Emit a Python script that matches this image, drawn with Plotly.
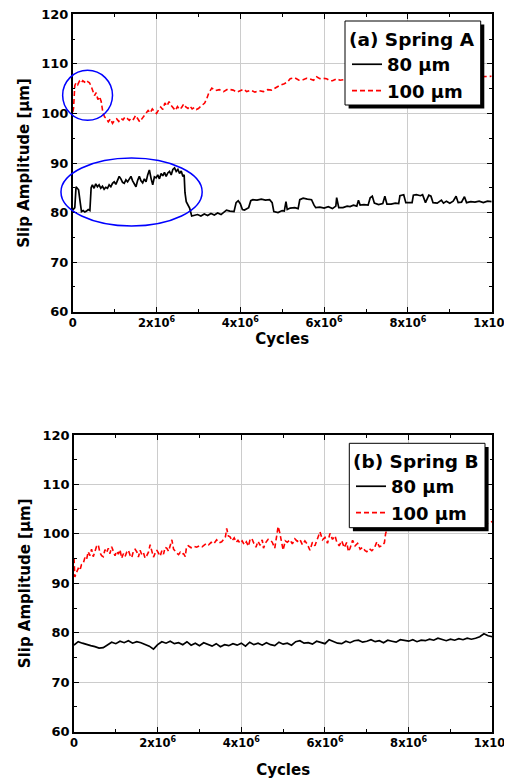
import plotly.graph_objects as go

# ---------------- data (cycles in units of 1e6) ----------------
A80_x = [0, 0.05, 0.08, 0.11, 0.14, 0.18, 0.21, 0.25, 0.29, 0.33, 0.37, 0.41, 0.44, 0.47, 0.51, 0.55,
         0.59, 0.63, 0.67, 0.71, 0.75, 0.79, 0.83, 0.87, 0.91, 0.95, 0.99, 1.03, 1.07, 1.11, 1.15, 1.19,
         1.23, 1.27, 1.31, 1.35, 1.39, 1.43, 1.47, 1.51, 1.55, 1.59, 1.63, 1.67, 1.71, 1.75, 1.79, 1.83,
         1.87, 1.91, 1.95, 1.99, 2.03, 2.07, 2.11, 2.15, 2.19, 2.23, 2.27, 2.31, 2.35, 2.39, 2.43, 2.47,
         2.51, 2.55, 2.59, 2.63, 2.66, 2.68, 2.71, 2.75, 2.79, 2.84, 2.90, 2.98, 3.06, 3.14, 3.22, 3.30,
         3.38, 3.46, 3.54, 3.60, 3.67, 3.75, 3.85, 3.90, 3.95, 4.00, 4.05, 4.10, 4.20, 4.25, 4.30, 4.40,
         4.50, 4.60, 4.70, 4.76, 4.80, 4.90, 5.00, 5.05, 5.09, 5.12, 5.19, 5.30, 5.38, 5.42, 5.50, 5.60,
         5.70, 5.76, 5.80, 5.90, 6.00, 6.10, 6.20, 6.28, 6.30, 6.35, 6.45, 6.55, 6.62, 6.70, 6.78, 6.82,
         6.86, 6.95, 7.05, 7.10, 7.15, 7.20, 7.30, 7.40, 7.45, 7.50, 7.60, 7.70, 7.78, 7.81, 7.90, 7.95,
         8.05, 8.10, 8.13, 8.20, 8.30, 8.35, 8.42, 8.50, 8.55, 8.60, 8.70, 8.80, 8.85, 8.92, 9.00, 9.08,
         9.15, 9.20, 9.28, 9.35, 9.40, 9.50, 9.60, 9.70, 9.80, 9.90, 10.0]
A80_y = [80.5, 81.0, 85.2, 84.8, 84.6, 82.0, 80.2, 80.4, 80.1, 80.3, 80.6, 80.4, 85.0, 85.6, 84.9, 85.8,
         85.2, 85.6, 84.9, 85.3, 84.7, 85.1, 84.9, 85.6, 85.2, 85.9, 86.2, 85.7, 86.5, 87.3, 86.8, 86.1,
         85.9, 86.6, 86.2, 86.9, 87.3, 86.4, 85.8, 85.2, 86.5, 87.3, 86.4, 86.0, 86.8, 86.2, 87.6, 88.6,
         86.9, 85.6, 87.2, 87.0, 87.6, 86.8, 87.9, 87.4, 88.1, 87.3, 88.0, 88.3, 87.6, 88.7, 89.0, 88.3,
         88.7, 87.9, 88.4, 87.3, 87.6, 84.0, 82.2, 81.5, 80.9, 79.3, 79.4, 79.6, 79.3, 79.7, 79.4, 79.8,
         79.5, 79.9, 79.6, 80.1, 80.5, 80.3, 80.2, 82.0, 82.4, 81.8, 80.6, 80.5, 81.0, 82.4, 82.6, 82.5,
         82.7, 82.5, 82.6, 82.0, 80.2, 80.0, 80.4, 80.3, 82.2, 80.6, 80.9, 81.0, 80.8, 82.6, 82.9, 82.7,
         82.6, 81.5, 81.0, 81.1, 80.9, 81.2, 80.8, 81.3, 83.0, 81.0, 81.0, 81.3, 81.2, 81.5, 81.3, 82.5,
         81.5, 81.6, 81.5, 83.0, 83.3, 81.9, 81.6, 81.8, 83.3, 81.7, 81.7, 81.9, 81.8, 83.4, 83.6, 82.0,
         81.9, 82.0, 83.5, 83.6, 83.4, 83.6, 82.0, 83.5, 83.3, 82.0, 81.9, 82.5, 81.9, 82.3, 81.9, 82.3,
         83.3, 82.0, 82.1, 83.2, 82.0, 82.2, 82.1, 82.3, 82.0, 82.3, 82.2]

A100_x = [0, 0.02, 0.05, 0.08, 0.12, 0.16, 0.20, 0.24, 0.28, 0.32, 0.36, 0.40, 0.44, 0.48, 0.52, 0.56,
          0.60, 0.64, 0.68, 0.72, 0.76, 0.80, 0.85, 0.90, 0.95, 1.00, 1.05, 1.10, 1.15, 1.20, 1.25, 1.30,
          1.35, 1.40, 1.45, 1.50, 1.55, 1.60, 1.65, 1.70, 1.75, 1.80, 1.85, 1.90, 1.95, 2.00, 2.05, 2.10,
          2.15, 2.20, 2.25, 2.30, 2.35, 2.40, 2.45, 2.50, 2.55, 2.60, 2.65, 2.70, 2.75, 2.80, 2.85, 2.90,
          2.95, 3.00, 3.05, 3.10, 3.15, 3.20, 3.25, 3.32, 3.40, 3.50, 3.60, 3.70, 3.83, 3.92, 4.00, 4.08,
          4.15, 4.25, 4.35, 4.45, 4.55, 4.65, 4.75, 4.85, 4.95, 5.05, 5.12, 5.19, 5.30, 5.40, 5.50, 5.58,
          5.65, 5.75, 5.82, 5.90, 5.95, 6.06, 6.14, 6.20, 6.30, 6.38, 6.45, 6.60, 6.80, 7.00, 7.40, 7.80,
          8.20, 8.60, 9.00, 9.40, 9.80, 10.0]
A100_y = [100.3, 101.0, 105.6, 106.2, 105.8, 106.5, 106.1, 106.6, 106.3, 106.7, 106.4, 106.2, 105.5, 104.4,
          103.6, 104.2, 102.8, 103.4, 102.4, 100.2, 99.3, 99.0, 98.3, 98.9, 98.0, 98.6, 98.9, 98.4, 99.0,
          98.7, 99.3, 99.0, 98.6, 99.1, 98.8, 99.6, 98.9, 98.3, 98.9, 99.5, 100.2, 100.6, 100.1, 100.9,
          100.4, 100.0, 100.7, 101.3, 100.8, 102.1, 101.5, 102.4, 101.6, 101.0, 100.6, 101.4, 100.8, 101.2,
          101.9, 101.3, 101.0, 101.5, 100.9, 101.2, 100.8, 101.0, 101.4, 101.6, 102.1, 103.0, 104.2, 105.1,
          104.6, 104.8, 104.4, 104.9, 104.7, 104.3, 104.6, 104.9, 104.4, 104.7, 104.3, 104.6, 104.4, 104.8,
          104.7, 105.2, 105.7, 106.0, 106.3, 107.0, 107.2, 106.7, 106.8, 107.1, 107.0, 106.7, 107.4, 107.0,
          107.1, 107.0, 106.6, 106.6, 107.0, 106.7, 106.8, 107.0, 106.8, 107.2, 107.0, 107.3, 107.1, 107.4,
          107.2, 107.3, 107.5, 107.5]

B80_x = [round(0.1 * i, 1) for i in range(101)]
B80_y = [77.5, 78.2, 77.9, 77.6, 77.4, 77.2, 76.9, 77.0, 77.6, 78.1, 77.8, 78.3, 78.0, 78.4, 77.9, 78.2,
         78.0, 77.6, 77.3, 76.7, 77.6, 78.2, 77.9, 78.3, 77.8, 78.0, 77.6, 78.2, 77.5, 77.9, 77.4, 78.0,
         77.6, 77.3, 77.8, 77.2, 77.6, 77.4, 77.8, 77.5, 77.9, 77.3, 78.1, 77.6, 77.9, 77.5, 78.0, 77.6,
         77.4, 78.1, 77.7, 77.9, 77.5, 78.2, 78.4, 77.9, 78.0, 77.7, 78.3, 78.1, 77.8, 78.6, 78.2, 77.9,
         77.8, 78.3, 78.0, 78.4, 78.5, 78.1, 78.3, 78.6, 78.2, 78.4, 78.0, 78.5, 78.3, 78.1, 78.6, 78.4,
         78.3, 78.6, 78.2, 78.5, 78.4, 78.7, 78.5, 78.9, 78.6, 78.4, 78.7, 78.5, 78.8, 78.6, 78.9, 78.7,
         78.9, 79.2, 79.8, 79.4, 79.2]

B100_x = [0, 0.02, 0.06, 0.10, 0.14, 0.18, 0.22, 0.26, 0.30, 0.34, 0.38, 0.42, 0.46, 0.50, 0.54, 0.58,
          0.62, 0.66, 0.70, 0.74, 0.78, 0.82, 0.86, 0.90, 0.94, 0.98, 1.02, 1.06, 1.10, 1.14, 1.18, 1.22,
          1.26, 1.30, 1.34, 1.38, 1.42, 1.46, 1.50, 1.54, 1.58, 1.62, 1.66, 1.70, 1.74, 1.78, 1.82, 1.86,
          1.90, 1.94, 1.98, 2.02, 2.06, 2.10, 2.14, 2.18, 2.22, 2.26, 2.30, 2.34, 2.38, 2.42, 2.46, 2.50,
          2.54, 2.58, 2.62, 2.66, 2.69, 2.73, 2.80, 2.86, 2.93, 3.00, 3.06, 3.12, 3.17, 3.22, 3.28, 3.34,
          3.41, 3.47, 3.53, 3.58, 3.62, 3.65, 3.69, 3.73, 3.78, 3.83, 3.88, 3.92, 3.97, 4.02, 4.07, 4.12,
          4.17, 4.21, 4.25, 4.30, 4.35, 4.40, 4.45, 4.50, 4.53, 4.58, 4.64, 4.69, 4.74, 4.80, 4.84, 4.88,
          4.92, 4.96, 5.00, 5.05, 5.10, 5.16, 5.22, 5.28, 5.34, 5.40, 5.46, 5.52, 5.58, 5.64, 5.70, 5.76,
          5.82, 5.88, 5.94, 6.00, 6.06, 6.12, 6.18, 6.24, 6.28, 6.34, 6.40, 6.46, 6.52, 6.56, 6.60, 6.66,
          6.72, 6.78, 6.84, 6.90, 6.96, 7.00, 7.06, 7.12, 7.18, 7.24, 7.30, 7.36, 7.42, 7.45, 7.50, 7.60,
          7.70, 7.80, 7.90, 8.00, 8.10, 8.20, 8.30, 8.40, 8.50, 8.60, 8.70, 8.80, 8.90, 9.00, 9.10, 9.20,
          9.30, 9.40, 9.50, 9.60, 9.70, 9.80, 9.90, 10.0]
B100_y = [95.1, 91.3, 92.2, 93.0, 92.6, 93.8, 94.0, 95.2, 94.8, 96.4, 95.6, 96.9, 95.4, 96.6, 97.5, 97.8,
          96.2, 95.6, 95.4, 96.8, 96.2, 97.1, 96.0, 97.4, 96.3, 95.6, 96.5, 95.9, 96.8, 95.1, 96.0, 95.4,
          96.3, 96.7, 95.7, 95.2, 96.5, 96.9, 96.4, 95.3, 96.7, 95.8, 96.2, 95.1, 95.6, 96.3, 97.8, 96.4,
          95.3, 96.1, 96.7, 96.1, 95.5, 96.6, 95.9, 97.3, 97.1, 96.5, 97.7, 98.8, 96.9, 96.4, 96.1, 95.8,
          96.3, 95.9, 96.0, 95.4, 97.4, 97.6, 97.2, 97.5, 97.3, 97.6, 97.4, 97.8, 98.1, 97.8, 98.3, 98.0,
          98.8, 98.2, 98.4, 98.9, 99.4, 101.1, 99.6, 99.4, 98.6, 99.2, 98.3, 98.7, 98.1, 98.6, 97.8, 98.4,
          97.5, 98.9, 99.1, 98.1, 97.3, 98.5, 97.7, 98.8, 97.1, 98.2, 98.9, 98.8, 98.3, 97.1, 99.3, 101.5,
          100.2, 98.4, 96.7, 98.6, 98.3, 98.8, 98.0, 99.0, 98.5, 98.9, 97.8, 98.6, 97.9, 96.7, 98.3, 97.6,
          99.2, 100.4, 98.8, 99.3, 98.1, 100.1, 98.9, 99.6, 98.4, 97.6, 98.6, 97.2, 98.3, 96.4, 97.1, 98.7,
          97.6, 98.1, 96.9, 97.3, 96.6, 96.4, 97.0, 96.6, 97.1, 98.4, 97.4, 97.6, 98.2, 100.1, 101.3, 101.8,
          101.5, 102.0, 101.6, 101.9, 101.4, 101.2, 100.9, 101.0, 100.8, 101.1, 101.3, 101.0, 101.5, 101.3,
          101.7, 101.4, 101.8, 101.6, 101.9, 101.7, 102.1, 101.9, 102.2, 102.5]

X_TICK_VALS = [0, 2e6, 4e6, 6e6, 8e6, 1e7]
X_TICK_TEXT = ["0", "2x10<sup>6</sup>", "4x10<sup>6</sup>", "6x10<sup>6</sup>", "8x10<sup>6</sup>", "1x10<sup>7</sup>"]
SERIES_NAMES = ["80 \u03bcm", "100 \u03bcm"]
PANEL_TITLES = ["(a) Spring A", "(b) Spring B"]
X_TITLE = "Cycles"
Y_TITLE = "Slip Amplitude [\u03bcm]"
X_RANGE = [0, 1e7]
Y_RANGE = [60, 120]

# highlighted regions in panel (a): (x0, x1) in 1e6 cycles, (y0, y1) in um
CIRCLE_A = (-0.24, 0.95, 98.6, 108.7)
ELLIPSE_A = (-0.28, 3.09, 77.3, 91.0)

FONT = "DejaVu Sans"

fig = go.Figure()

def sc(xs):
    return [v * 1e6 for v in xs]

RED_LINE = dict(color="#ff0000", width=1.6, dash="5px,3px")
BLACK_LINE = dict(color="black", width=1.7)

fig.add_trace(go.Scatter(x=sc(A80_x), y=A80_y, mode="lines", name=SERIES_NAMES[0],
                         line=BLACK_LINE, xaxis="x", yaxis="y", legend="legend"))
fig.add_trace(go.Scatter(x=sc(A100_x), y=A100_y, mode="lines", name=SERIES_NAMES[1],
                         line=RED_LINE, xaxis="x", yaxis="y", legend="legend"))
fig.add_trace(go.Scatter(x=sc(B80_x), y=B80_y, mode="lines", name=SERIES_NAMES[0],
                         line=BLACK_LINE, xaxis="x2", yaxis="y2", legend="legend2"))
fig.add_trace(go.Scatter(x=sc(B100_x), y=B100_y, mode="lines", name=SERIES_NAMES[1],
                         line=RED_LINE, xaxis="x2", yaxis="y2", legend="legend2"))

# page body has an 8px margin: work in screen pixels and subtract it
OFF = 8
W, H = 512 - OFF, 779 - OFF
L, R, T, B = 72 - OFF, 19, 14 - OFF, 47
PW, PH = W - L - R, H - T - B

def px_x(p):
    return (p - OFF - L) / PW

def px_y(p):
    return 1 - (p - OFF - T) / PH

common = dict(showline=True, linecolor="black", linewidth=1.5, mirror="ticks",
              ticks="inside", ticklen=5, tickwidth=1.2, tickcolor="black",
              showgrid=True, gridcolor="#cccccc", gridwidth=1, zeroline=False,
              ticklabeloverflow="allow")

xcommon = dict(common, range=X_RANGE, tickmode="array", tickvals=X_TICK_VALS, ticktext=X_TICK_TEXT,
               tickfont=dict(family=FONT, size=11.5, color="black", weight="bold"),
               minor=dict(ticks="inside", ticklen=3, tickwidth=1.2, tickcolor="black", dtick=1e6, tick0=0, showgrid=False),
               title=dict(text=X_TITLE, font=dict(family=FONT, size=15, color="black", weight="bold")))
ycommon = dict(common, range=Y_RANGE, dtick=10, tick0=60,
               tickfont=dict(family=FONT, size=13, color="black", weight="bold"),
               minor=dict(ticks="inside", ticklen=3, tickwidth=1.2, tickcolor="black", dtick=5, tick0=60, showgrid=False),
               title=dict(text=Y_TITLE, font=dict(family=FONT, size=15, color="black", weight="bold"), standoff=8))

xa1 = dict(xcommon, domain=[px_x(72.7), px_x(491.7)], anchor="y")
xa1["title"] = dict(xcommon["title"], standoff=4)
xa2 = dict(xcommon, domain=[px_x(74), px_x(492.3)], anchor="y2")
xa2["title"] = dict(xcommon["title"], standoff=15)
ya1 = dict(ycommon, domain=[px_y(311.7), px_y(14.3)], anchor="x")
ya2 = dict(ycommon, domain=[px_y(731.7), px_y(435)], anchor="x2")

def legend_box(x0, y0, x1, y1, off=3.6):
    return [
        dict(type="rect", xref="paper", yref="paper", x0=px_x(x0 + off), x1=px_x(x1 + off),
             y0=px_y(y1 + off), y1=px_y(y0 + off), fillcolor="black", line=dict(width=0), layer="above"),
        dict(type="rect", xref="paper", yref="paper", x0=px_x(x0), x1=px_x(x1),
             y0=px_y(y1), y1=px_y(y0), fillcolor="white", line=dict(color="black", width=1), layer="above"),
    ]

def ell(spec):
    x0, x1, y0, y1 = spec
    return dict(type="circle", xref="x domain", yref="y domain",
                x0=x0 * 1e6 / X_RANGE[1], x1=x1 * 1e6 / X_RANGE[1],
                y0=(y0 - Y_RANGE[0]) / (Y_RANGE[1] - Y_RANGE[0]), y1=(y1 - Y_RANGE[0]) / (Y_RANGE[1] - Y_RANGE[0]),
                line=dict(color="#0000ff", width=1.5), layer="above")

shapes = [ell(CIRCLE_A), ell(ELLIPSE_A)]
shapes += legend_box(345, 21, 480.7, 105)
shapes += legend_box(349.3, 443.3, 485, 527.7)

def legend_cfg(title, x, y):
    return dict(x=x, y=y, xanchor="left", yanchor="top", bgcolor="rgba(0,0,0,0)", borderwidth=0,
                font=dict(family=FONT, size=18, color="black", weight="bold"),
                title=dict(text=title, font=dict(family=FONT, size=18.5, color="black", weight="bold")),
                itemwidth=30, tracegroupgap=0, traceorder="normal")

fig.update_layout(
    width=W, height=H, margin=dict(l=L, r=R, t=T, b=B, autoexpand=False),
    paper_bgcolor="white", plot_bgcolor="white",
    font=dict(family=FONT, color="black"),
    xaxis=xa1, yaxis=ya1, xaxis2=xa2, yaxis2=ya2,
    shapes=shapes,
    showlegend=True,
    legend=legend_cfg(PANEL_TITLES[0], px_x(347), px_y(22)),
    legend2=legend_cfg(PANEL_TITLES[1], px_x(351), px_y(444)),
)

fig.write_html("out.html")
